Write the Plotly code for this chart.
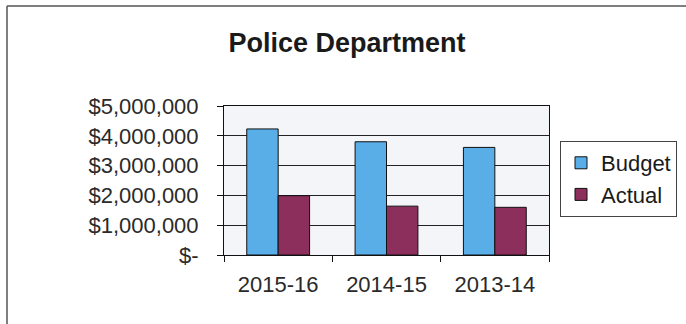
import plotly.graph_objects as go

categories = ["2015-16", "2014-15", "2013-14"]
budget = [4230000, 3800000, 3610000]
actual = [1990000, 1640000, 1600000]
y_tick_vals = [0, 1000000, 2000000, 3000000, 4000000, 5000000]
y_tick_text = ["$-", "$1,000,000", "$2,000,000", "$3,000,000", "$4,000,000", "$5,000,000"]

FONT = "Liberation Sans, Arial, sans-serif"

fig = go.Figure()
fig.add_trace(go.Bar(name="Budget", x=categories, y=budget,
                     marker=dict(color="#5AAEE8", line=dict(color="#111111", width=1))))
fig.add_trace(go.Bar(name="Actual", x=categories, y=actual,
                     marker=dict(color="#8C2F5C", line=dict(color="#111111", width=1))))

L, R, T, B = 224, 137, 106, 69
W, H = 686, 324
pw, ph = W - L - R, H - T - B

def px(x):
    return (x - L) / pw

def py(y):
    return (H - B - y) / ph

fig.update_layout(
    width=W, height=H,
    margin=dict(l=L, r=R, t=T, b=B, pad=0, autoexpand=False),
    paper_bgcolor="white",
    plot_bgcolor="#F4F5F9",
    barmode="group", bargap=0.42, bargroupgap=0,
    font=dict(family=FONT, size=22, color="#2a2a2a"),
    title=dict(text="<b>Police Department</b>", x=347 / W, xref="container", xanchor="center",
               y=1 - 43 / H, yref="container", yanchor="middle",
               font=dict(family=FONT, size=27, color="#1a1a1a")),
    showlegend=True,
    legend=dict(x=px(560), y=py(141), xanchor="left", yanchor="top",
                bordercolor="#444444", borderwidth=1, bgcolor="white",
                font=dict(family=FONT, size=22, color="#1a1a1a"),
                itemwidth=30, tracegroupgap=0),
    xaxis=dict(showline=True, linecolor="#111111", linewidth=1, mirror=True,
               ticks="outside", ticklen=6, tickcolor="#111111", tickson="boundaries",
               showgrid=False, automargin=False, ticklabelstandoff=10,
               tickfont=dict(size=22, color="#2a2a2a")),
    yaxis=dict(range=[0, 5000000], tickvals=y_tick_vals, ticktext=y_tick_text,
               showline=True, linecolor="#111111", linewidth=1, mirror=True,
               ticks="outside", ticklen=6, tickcolor="#111111",
               showgrid=True, gridcolor="#222222", gridwidth=1,
               zeroline=False, ticklabelstandoff=14, automargin=False,
               tickfont=dict(size=22, color="#2a2a2a")),
    shapes=[
        dict(type="line", xref="paper", yref="paper", x0=px(7), x1=px(W), y0=py(6), y1=py(6),
             line=dict(color="#555555", width=1.5)),
        dict(type="line", xref="paper", yref="paper", x0=px(7), x1=px(7), y0=py(6), y1=py(H),
             line=dict(color="#555555", width=1.5)),
    ],
)

fig.write_html("out.html", config={"displayModeBar": False},
               post_script="document.body.style.margin='0';document.body.style.overflow='hidden';")
